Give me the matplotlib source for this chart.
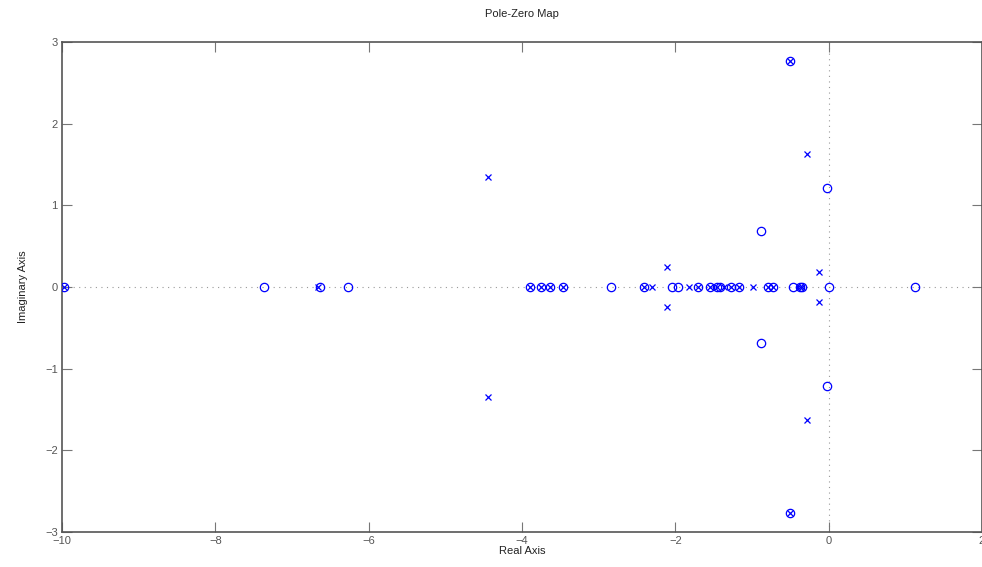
import matplotlib
matplotlib.use("Agg")
import matplotlib.pyplot as plt

# poles (x markers)
pole_re = [-9.98, -6.66, -4.45, -4.45, -3.90, -3.75, -3.63, -3.46, -2.41, -2.30,
           -2.11, -2.11, -1.82, -1.71, -1.55, -1.46, -1.37, -1.28, -1.17, -0.99,
           -0.79, -0.72, -0.38, -0.35, -0.50, -0.50, -0.28, -0.28, -0.13, -0.13]
pole_im = [0, 0, 1.345, -1.345, 0, 0, 0, 0, 0, 0,
           0.24, -0.24, 0, 0, 0, 0, 0, 0, 0, 0,
           0, 0, 0, 0, 2.77, -2.77, 1.625, -1.625, 0.18, -0.18]

# zeros (o markers)
zero_re = [-9.98, -7.36, -6.63, -6.27, -3.90, -3.75, -3.63, -3.46, -2.84, -2.41,
           -2.04, -1.97, -1.71, -1.55, -1.46, -1.42, -1.28, -1.17, -0.79, -0.72,
           -0.465, -0.38, -0.35, 0.0, 1.13, -0.88, -0.88, -0.02, -0.02, -0.50, -0.50]
zero_im = [0, 0, 0, 0, 0, 0, 0, 0, 0, 0,
           0, 0, 0, 0, 0, 0, 0, 0, 0, 0,
           0, 0, 0, 0, 0, 0.69, -0.69, 1.215, -1.215, 2.77, -2.77]

xticks = [-10, -8, -6, -4, -2, 0, 2]
yticks = [-3, -2, -1, 0, 1, 2, 3]

plt.rcParams['font.family'] = ['Liberation Sans', 'DejaVu Sans']
gray = '#555555'

fig = plt.figure(figsize=(9.82, 5.67), dpi=100)
ax = fig.add_axes([62/982, 1 - 532/567, (982 - 62)/982, (532 - 42)/567])

# dotted reference lines through origin
ax.axhline(0, color='#999999', linestyle=(0, (1, 4)), linewidth=0.8, zorder=1)
ax.axvline(0, color='#999999', linestyle=(0, (1, 4)), linewidth=0.8, zorder=1)

ax.plot(pole_re, pole_im, linestyle='none', marker='x', color='#0000ff',
        markersize=4.5, markeredgewidth=0.9, zorder=3)
ax.plot(zero_re, zero_im, linestyle='none', marker='o', markerfacecolor='none',
        markeredgecolor='#0000ff', markersize=6, markeredgewidth=0.9, zorder=3)

ax.set_xlim(-10, 2)
ax.set_ylim(-3, 3)
ax.set_xticks(xticks)
ax.set_yticks(yticks)
ax.set_xticklabels([str(t).replace('-', '\u2212') for t in xticks])
ax.set_yticklabels([str(t).replace('-', '\u2212') for t in yticks])

ax.tick_params(direction='in', length=7, width=0.8, color='#777777',
               labelcolor=gray, labelsize=8, top=True, right=True, pad=3)
for s in ax.spines.values():
    s.set_color('#555555')
    s.set_linewidth(1.2)

ax.set_title('Pole-Zero Map', fontsize=8, color='#222222', pad=18)
ax.set_xlabel('Real Axis', fontsize=8, color='#222222', labelpad=0)
ax.set_ylabel('Imaginary Axis', fontsize=8, color='#222222', labelpad=12)

fig.savefig('out.png', dpi=100)
